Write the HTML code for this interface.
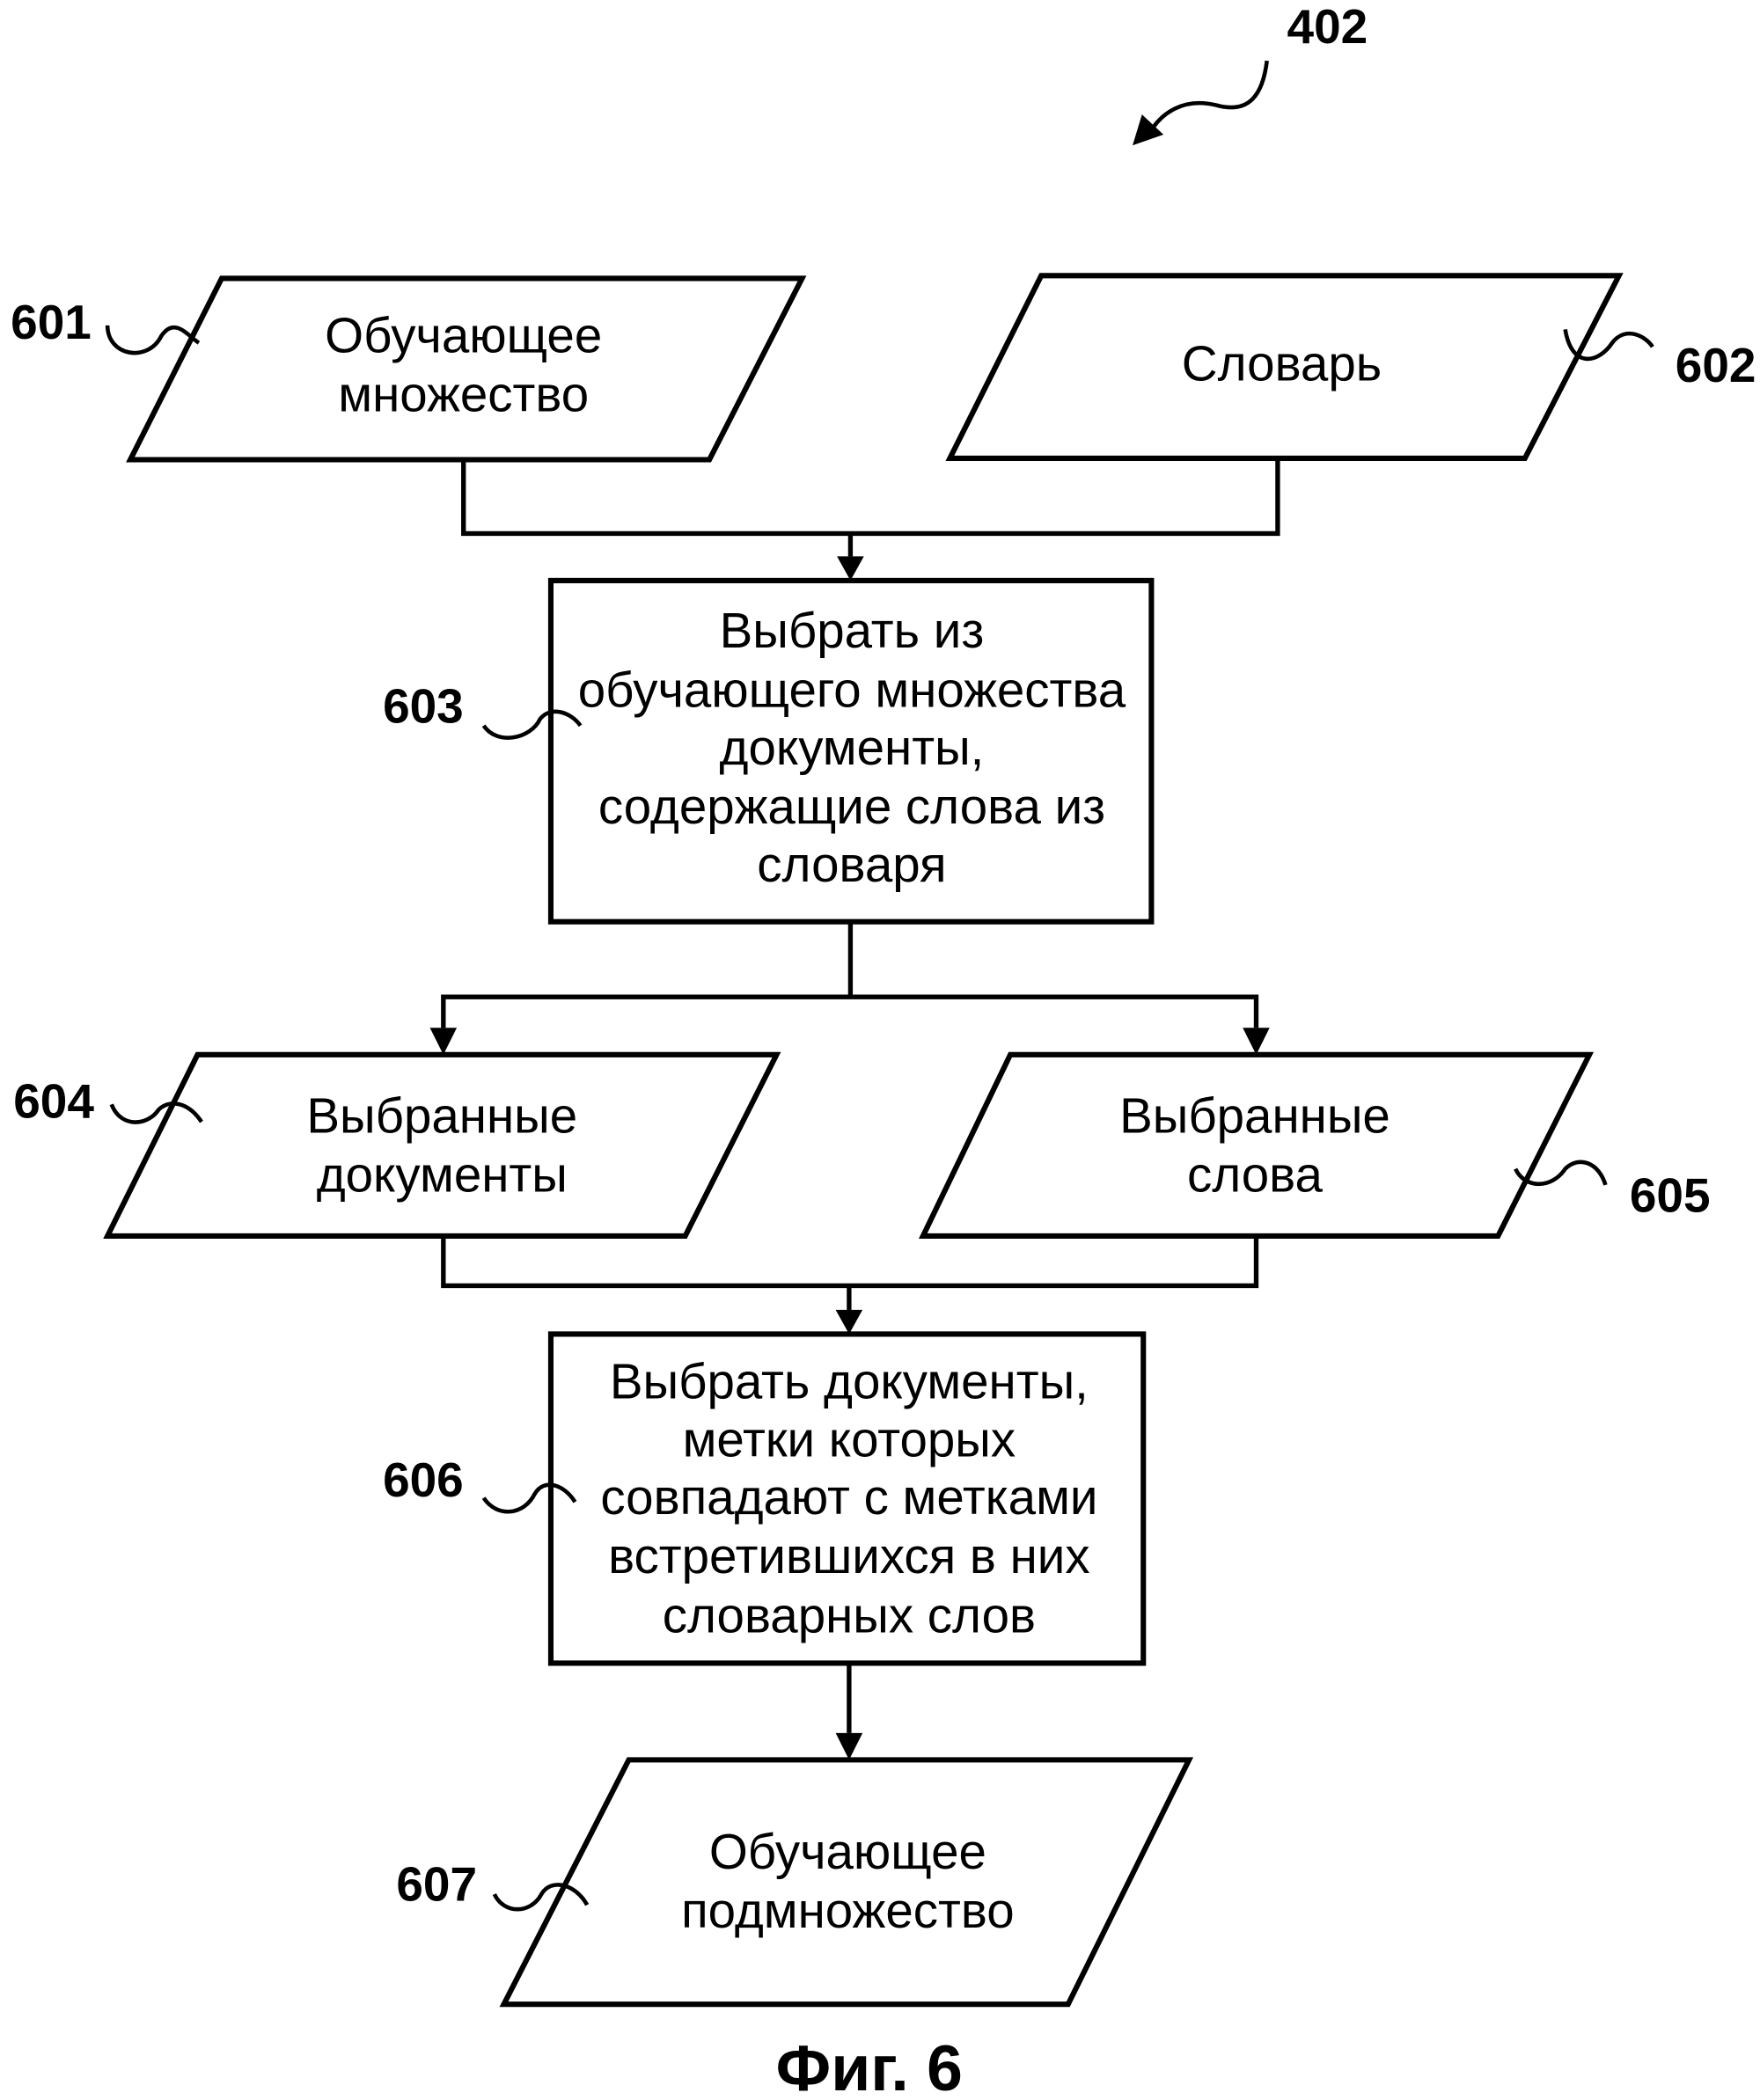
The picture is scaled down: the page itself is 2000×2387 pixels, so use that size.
<!DOCTYPE html>
<html><head><meta charset="utf-8"><style>html,body{margin:0;padding:0;background:#fff}svg{display:block}</style></head>
<body>
<svg width="2000" height="2387" viewBox="0 0 1310 1563" xmlns="http://www.w3.org/2000/svg">
<g fill="none" stroke="#000" stroke-width="3.5">
<polygon points="165,207 597,207 528,342 97,342" stroke-width="4"/>
<polygon points="775,205 1205,205 1135,341 707,341" stroke-width="4"/>
<rect x="410" y="432" width="447" height="254" stroke-width="4"/>
<polygon points="147,785 578,785 510,920 80,920" stroke-width="4"/>
<polygon points="752,785 1183,785 1115,920 687,920" stroke-width="4"/>
<rect x="410" y="993" width="441" height="245" stroke-width="4"/>
<polygon points="468,1310 885,1310 795,1492 375,1492" stroke-width="4"/>
<polyline points="345,342 345,397 951,397 951,341"/>
<line x1="633" y1="397" x2="633" y2="414"/>
<polyline points="633,686 633,742"/>
<polyline points="330,765 330,742 935,742 935,765"/>
<polyline points="330,920 330,957 935,957 935,920"/>
<line x1="632" y1="957" x2="632" y2="975"/>
<line x1="632" y1="1238" x2="632" y2="1290"/>
<path d="M943,45 C940,70 930,85 905,78 C880,72 865,85 858,95" stroke-width="3"/>
<path d="M80,242 C80,265 110,270 120,250 C130,235 140,250 148,255" stroke-width="3"/>
<path d="M1165,245 C1170,275 1190,270 1200,255 C1210,242 1225,250 1230,258" stroke-width="3"/>
<path d="M360,540 C370,555 395,550 402,535 C410,525 425,530 432,540" stroke-width="3"/>
<path d="M83,822 C90,840 110,838 118,826 C126,818 140,820 150,835" stroke-width="3"/>
<path d="M1128,870 C1135,885 1155,885 1165,870 C1175,860 1190,865 1195,882" stroke-width="3"/>
<path d="M360,1115 C370,1130 390,1128 398,1112 C405,1100 420,1105 428,1118" stroke-width="3"/>
<path d="M368,1410 C375,1425 395,1425 403,1410 C410,1398 428,1402 437,1418" stroke-width="3"/>
</g>
<g fill="#000">
<polygon points="623,414 643,414 633,432"/>
<polygon points="320,765 340,765 330,785"/>
<polygon points="925,765 945,765 935,785"/>
<polygon points="622,975 642,975 632,993"/>
<polygon points="622,1290 642,1290 632,1310"/>
<polygon points="850,85 866,100 843,108"/>
</g>
<g font-family="Liberation Sans, sans-serif" font-size="37" text-anchor="middle" fill="#000">
<text x="345" y="262">Обучающее</text><text x="345" y="306">множество</text>
<text x="954" y="283">Словарь</text>
<text x="634" y="482">Выбрать из</text><text x="634" y="526">обучающего множества</text><text x="634" y="569">документы,</text><text x="634" y="613">содержащие слова из</text><text x="634" y="656">словаря</text>
<text x="329" y="843">Выбранные</text><text x="329" y="887">документы</text>
<text x="934" y="843">Выбранные</text><text x="934" y="887">слова</text>
<text x="632" y="1041">Выбрать документы,</text><text x="632" y="1084">метки которых</text><text x="632" y="1127">совпадают с метками</text><text x="632" y="1171">встретившихся в них</text><text x="632" y="1215">словарных слов</text>
<text x="631" y="1391">Обучающее</text><text x="631" y="1435">подмножество</text>
</g>
<g font-family="Liberation Sans, sans-serif" font-size="36" font-weight="bold" fill="#000" text-anchor="middle">
<text x="988" y="32">402</text>
<text x="38" y="252">601</text>
<text x="1277" y="284">602</text>
<text x="315" y="538">603</text>
<text x="40" y="832">604</text>
<text x="1243" y="902">605</text>
<text x="315" y="1114">606</text>
<text x="325" y="1415">607</text>
<text x="647" y="1556" font-size="48">Фиг. 6</text>
</g>
</svg>
</body></html>
